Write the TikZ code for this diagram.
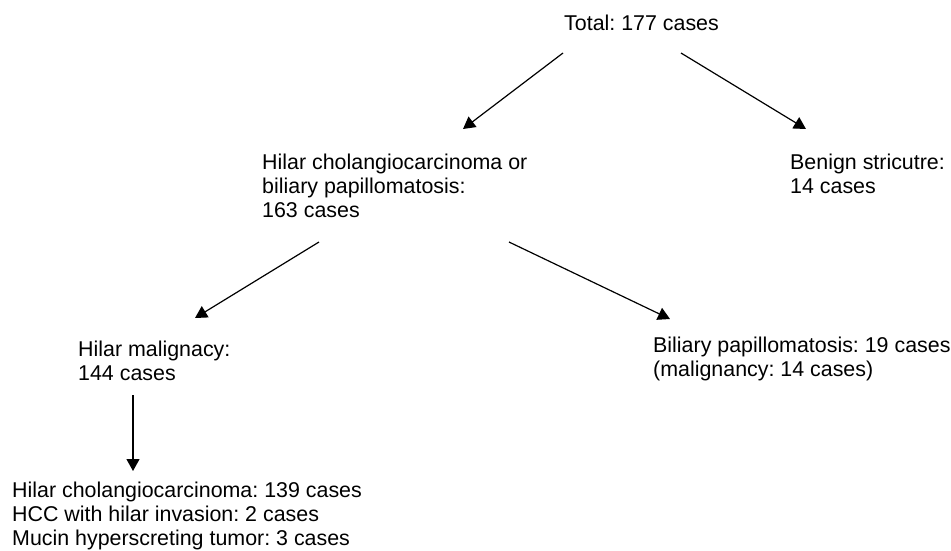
\documentclass[tikz,border=0pt]{standalone}
\usepackage{fontspec}
\setmainfont{Liberation Sans}
\usetikzlibrary{arrows.meta}
\frenchspacing
\begin{document}
\begin{tikzpicture}[x=1pt,y=-1pt,
  lbl/.style={anchor=base west,inner sep=0pt,align=left,font=\fontsize{21.4}{23.8}\selectfont\frenchspacing},
  arr/.style={line width=1.2pt,-{Triangle[length=12pt,width=13pt]}}]
\useasboundingbox (0,0) rectangle (951,550);
\node[lbl] (total) at (564,30) {Total: 177 cases};
\node[lbl] (hc) at (262,217) {Hilar cholangiocarcinoma or\\biliary papillomatosis:\\163 cases};
\node[lbl] (benign) at (790,193) {Benign stricutre:\\14 cases};
\node[lbl] (hm) at (78,380) {Hilar malignacy:\\144 cases};
\node[lbl] (bp) at (653,376) {Biliary papillomatosis: 19 cases\\(malignancy: 14 cases)};
\node[lbl] (det) at (12,545) {Hilar cholangiocarcinoma: 139 cases\\HCC with hilar invasion: 2 cases\\Mucin hyperscreting tumor: 3 cases};
\coordinate (t1) at (563,53);
\coordinate (t2) at (681,53);
\coordinate (h1) at (319,242);
\coordinate (h2) at (509,242);
\coordinate (m1) at (133,395);
\coordinate (hcTip) at (463,129);
\coordinate (bnTip) at (806,129);
\coordinate (hmTip) at (195,318);
\coordinate (bpTip) at (670,319);
\coordinate (detTip) at (133,471);
\draw[arr] (t1) -- (hcTip);
\draw[arr] (t2) -- (bnTip);
\draw[arr] (h1) -- (hmTip);
\draw[arr] (h2) -- (bpTip);
\draw[arr] (m1) -- (detTip);
\end{tikzpicture}
\end{document}
